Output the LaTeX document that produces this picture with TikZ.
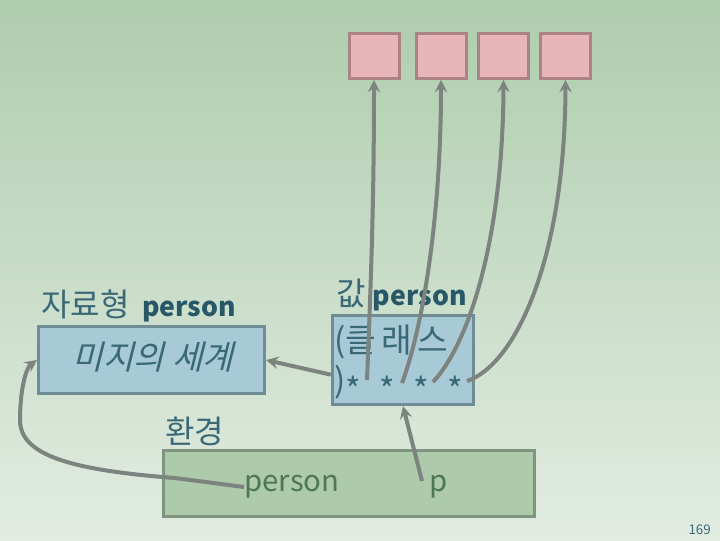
\documentclass[tikz,border=0pt]{standalone}
\usepackage{fontspec}
\setmainfont{Noto Sans CJK KR}
\newfontfamily\slantfont{Noto Sans CJK KR}[FakeSlant=0.25]
\usetikzlibrary{arrows}

\definecolor{bgtop}{RGB}{174,205,173}
\definecolor{bgmid}{RGB}{200,221,199}
\definecolor{bgbot}{RGB}{226,236,226}
\definecolor{cellfill}{RGB}{232,182,184}
\definecolor{celldraw}{RGB}{172,130,132}
\definecolor{blufill}{RGB}{167,202,214}
\definecolor{bludraw}{RGB}{112,141,150}
\definecolor{envfill}{RGB}{173,202,171}
\definecolor{envdraw}{RGB}{127,149,127}
\definecolor{arrgrey}{RGB}{125,131,127}
\definecolor{tealtxt}{RGB}{58,104,118}
\definecolor{tealbold}{RGB}{40,88,104}
\definecolor{envtxt}{RGB}{78,120,82}

\newcommand{\lowstar}{\raisebox{-0.3em}{*}}
\newcommand{\boldname}{\textcolor{tealbold}{\fontsize{20}{24}\selectfont\bfseries person}}

\begin{document}
\begin{tikzpicture}[x=0.75pt,y=0.75pt,yscale=-1,xscale=1,
  cell/.style={draw=celldraw,fill=cellfill,line width=2.25pt,minimum width=37.5pt,minimum height=33.5pt,inner sep=0pt},
  blubox/.style={draw=bludraw,fill=blufill,line width=2.25pt,inner sep=0pt},
  arr/.style={draw=arrgrey,line width=3pt,->,>=stealth}]
\useasboundingbox (0,0) rectangle (720,540);

%Shape: Background
\shade [top color=bgtop,middle color=bgmid,bottom color=bgbot] (0,0) rectangle (720,540);

%Shape: Cells
\node [cell] (cell1) at (374,56) {};
\node [cell] (cell2) at (441,56) {};
\node [cell] (cell3) at (503.5,56) {};
\node [cell] (cell4) at (565.5,56) {};

%Shape: Value box
\node [blubox,minimum width=106pt,minimum height=67pt] (valbox) at (403,360) {};
% Text Node
\node [anchor=north west,inner sep=0pt,align=left,text=tealtxt,font=\fontsize{25}{30}\selectfont] (valtxt) at (334,325) {(클\,래\,스\\)\lowstar\hspace{0.55em}\lowstar\hspace{0.55em}\lowstar\hspace{0.55em}\lowstar};
% Text Node
\node [anchor=south west,inner sep=0pt,text=tealtxt,font=\fontsize{24}{28}\selectfont] (vallbl) at (336,311) {값 \boldname};

%Shape: Type box
\node [blubox,minimum width=169.5pt,minimum height=50.5pt] (typebox) at (151.5,360) {};
% Text Node
\node [text=tealtxt,font=\fontsize{25}{30}\slantfont] (typetxt) at (153,357) {미지의 세계};
% Text Node
\node [anchor=south west,inner sep=0pt,text=tealtxt,font=\fontsize{24}{28}\selectfont] (typelbl) at (41,322) {자료형\hspace{0.4em}\boldname};

%Shape: Environment box
\node [draw=envdraw,fill=envfill,line width=2.25pt,inner sep=0pt,minimum width=278.5pt,minimum height=50pt] (envbox) at (349,483.5) {};
% Text Node
\node [anchor=south west,inner sep=0pt,text=tealtxt,font=\fontsize{24}{28}\selectfont] (envlbl) at (165,446) {환경};
% Text Node
\node [anchor=west,inner sep=0pt,text=envtxt,font=\fontsize{22}{26}\selectfont] (envname) at (244,487) {person};
% Text Node
\node [anchor=west,inner sep=0pt,text=envtxt,font=\fontsize{22}{26}\selectfont] (envp) at (429,487) {p};
% Text Node
\node [anchor=south east,inner sep=0pt,text=tealtxt,font=\fontsize{10}{12}\selectfont] (pgnum) at (711,535) {169};

%Straight Lines
\coordinate (s1) at (367,380);
\coordinate (s2) at (402,383);
\coordinate (s3) at (433,382);
\coordinate (s4) at (467,381);
\coordinate (pstart) at (422,481);
\draw [arr] (s1) .. controls (371,280) and (374,200) .. (cell1.south);
\draw [arr] (s2) .. controls (422,330) and (441,220) .. (cell2.south);
\draw [arr] (s3) .. controls (472,340) and (503,230) .. (cell3.south);
\draw [arr] (s4) .. controls (515,365) and (565,260) .. (cell4.south);
\draw [arr] ([yshift=11pt]valbox.west) -- (typebox.east);
\draw [arr] (pstart) -- (valbox.south);
\draw [arr] (envname.west) -- (175,478) .. controls (70,470) and (20,455) .. (20,420) .. controls (20,390) and (26,368) .. (typebox.west);

\end{tikzpicture}
\end{document}
